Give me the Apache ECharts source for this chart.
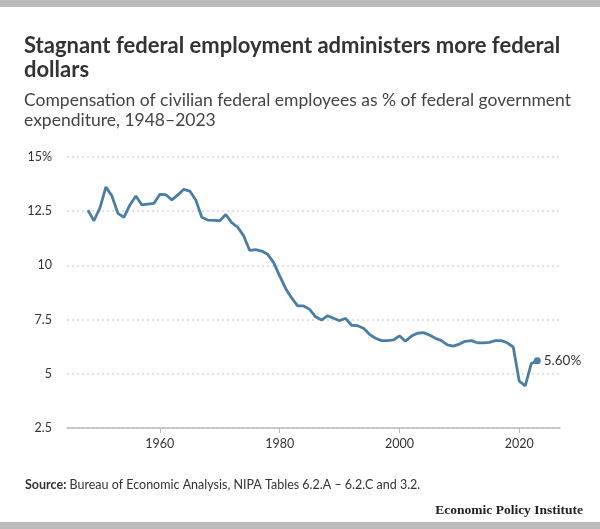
<!DOCTYPE html>
<html><head><meta charset="utf-8">
<script src="https://cdn.jsdelivr.net/npm/echarts@6/dist/echarts.min.js"></script>
<style>html,body{margin:0;padding:0;background:#fff}#c{width:600px;height:529px}</style>
</head><body><div id="c"></div>
<script>
const years = [];
for (let y = 1948; y <= 2023; y++) years.push(y);
const shares = [
12.55, 12.06, 12.65, 13.62, 13.2, 12.4, 12.22, 12.79, 13.2, 12.79,
12.83, 12.86, 13.28, 13.26, 13.02, 13.25, 13.51, 13.43, 13.02, 12.22,
12.09, 12.08, 12.06, 12.35, 11.97, 11.76, 11.36, 10.69, 10.73, 10.66,
10.51, 10.13, 9.52, 8.94, 8.5, 8.13, 8.13, 7.97, 7.63, 7.48,
7.68, 7.56, 7.45, 7.56, 7.24, 7.22, 7.1, 6.82, 6.64, 6.53,
6.53, 6.56, 6.75, 6.5, 6.74, 6.87, 6.9, 6.79, 6.64, 6.53,
6.33, 6.28, 6.37, 6.5, 6.53, 6.43, 6.43, 6.45, 6.53, 6.53,
6.43, 6.23, 4.66, 4.44, 5.47, 5.60
];
const yTicks = [2.5, 5, 7.5, 10, 12.5, 15];
const xTicks = [1960, 1980, 2000, 2020];

const lineColor = '#4a7ea5';
const font = 'Lato, "Open Sans", sans-serif';
const pts = years.map((y, i) => [y, shares[i]]);
const last = pts[pts.length - 1];

const chart = echarts.init(document.getElementById('c'), null, {renderer: 'canvas'});
chart.setOption({
  animation: false,
  backgroundColor: '#fff',
  title: [
    {text: 'Stagnant federal employment administers more federal\ndollars', left: 19, top: 29,
     textStyle: {fontFamily: font, fontWeight: 'bold', fontSize: 22, color: '#333', lineHeight: 24}},
    {text: 'Compensation of civilian federal employees as % of federal government\nexpenditure, 1948\u20132023', left: 19, top: 86,
     textStyle: {fontFamily: font, fontWeight: 'normal', fontSize: 17.5, color: '#444', lineHeight: 19.5}},
    {text: '{b|Source:} Bureau of Economic Analysis, NIPA Tables 6.2.A \u2013 6.2.C and 3.2.', left: 20, top: 473,
     textStyle: {fontFamily: font, fontWeight: 'normal', fontSize: 12.5, color: '#333', rich: {b: {fontFamily: font, fontWeight: 'bold', fontSize: 12.5, color: '#333'}}}},
    {text: 'Economic Policy Institute', right: 12, top: 499,
     textStyle: {fontFamily: '"Liberation Serif", "DejaVu Serif", serif', fontWeight: 'bold', fontSize: 13.5, color: '#222'}}
  ],
  graphic: [
    {type: 'rect', left: 0, top: 0, shape: {width: 600, height: 7}, style: {fill: '#bbbbbb'}},
    {type: 'rect', left: 0, top: 522, shape: {width: 600, height: 7}, style: {fill: '#bbbbbb'}}
  ],
  grid: {left: 67, right: 40, top: 157, bottom: 101, containLabel: false},
  xAxis: {
    type: 'value', min: 1944.5, max: 2026.8,
    axisLine: {show: true, lineStyle: {color: '#bbb', width: 1.5}},
    axisTick: {show: true, customValues: xTicks, length: 5, lineStyle: {color: '#bbb'}},
    axisLabel: {customValues: xTicks, color: '#333', fontFamily: font, fontSize: 12.5, margin: 9,
      formatter: v => String(v)},
    splitLine: {show: false}
  },
  yAxis: {
    type: 'value', min: 2.5, max: 15, interval: 2.5,
    axisLine: {show: false}, axisTick: {show: false},
    axisLabel: {color: '#333', fontFamily: font, fontSize: 12.5, margin: 15,
      formatter: v => (v === 15 ? v + '%' : String(v))},
    splitLine: {show: true, lineStyle: {color: '#d6d6d6', type: [2, 3], width: 1.5}}
  },
  series: [
    {type: 'line', data: pts, showSymbol: false, smooth: false,
     lineStyle: {color: lineColor, width: 2.8}, z: 3},
    {type: 'scatter', data: [last], symbolSize: 7, itemStyle: {color: lineColor, opacity: 1}, z: 4,
     label: {show: true, position: 'right', distance: 3, formatter: p => p.value[1].toFixed(2) + '%',
       color: '#333', fontFamily: font, fontSize: 13.5}}
  ]
});
</script></body></html>
